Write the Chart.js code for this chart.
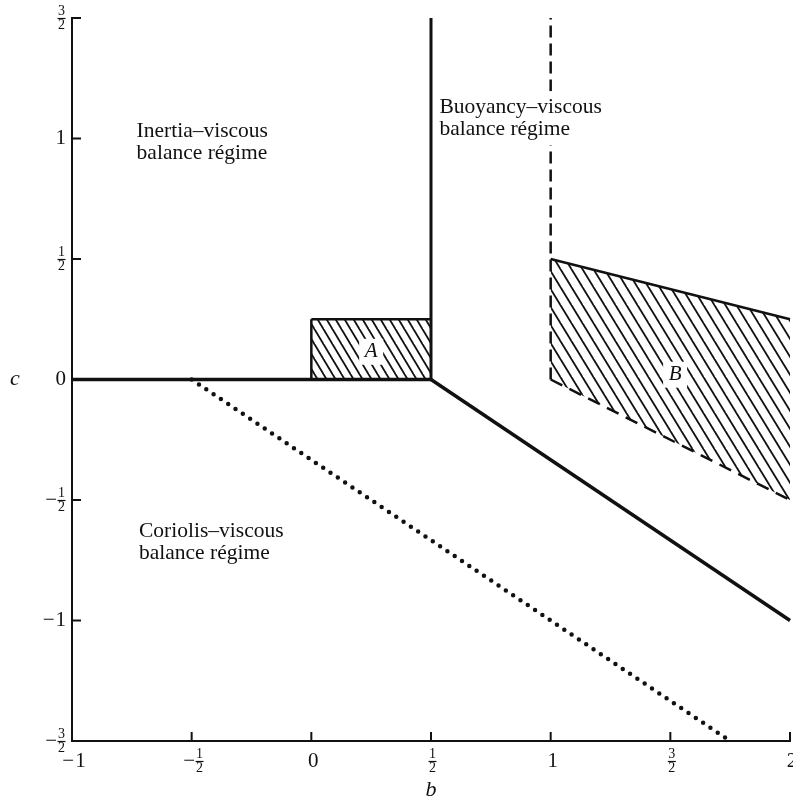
<!DOCTYPE html>
<html>
<head>
<meta charset="utf-8">
<script src="https://cdn.jsdelivr.net/npm/chart.js@4.4.0/dist/chart.umd.min.js"></script>
<style>
  html, body { margin: 0; padding: 0; background: #fff; }
</style>
</head>
<body>
<canvas id="chart" width="793" height="803"></canvas>
<script>
(function () {
  "use strict";

  /* ---------- data ---------- */
  var X_TICKS = [-1, -0.5, 0, 0.5, 1, 1.5, 2];
  var X_LABELS = ["−1", "−1/2", "0", "1/2", "1", "3/2", "2"];
  var Y_TICKS = [-1.5, -1, -0.5, 0, 0.5, 1, 1.5];
  var Y_LABELS = ["−3/2", "−1", "−1/2", "0", "1/2", "1", "3/2"];

  var ZERO_LINE = [{ x: -1, y: 0 }, { x: 0.5, y: 0 }];
  var BUOYANCY_EDGE = [{ x: 0.5, y: 0 }, { x: 0.5, y: 1.5 }];
  var CORIOLIS_EDGE = [{ x: 0.5, y: 0 }, { x: 2, y: -1 }];
  var DOTTED_LINE = [{ x: -0.5, y: 0 }, { x: 1.75, y: -1.5 }];
  var DASHED_LINE = [{ x: 1, y: 0 }, { x: 1, y: 1.5 }];

  var A_TOP = [{ x: 0, y: 0.25 }, { x: 0.5, y: 0.25 }];
  var A_BOTTOM = [{ x: 0, y: 0 }, { x: 0.5, y: 0 }];
  var A_LEFT = [{ x: 0, y: 0 }, { x: 0, y: 0.25 }];
  var B_TOP = [{ x: 1, y: 0.5 }, { x: 2, y: 0.25 }];
  var B_BOTTOM = [{ x: 1, y: 0 }, { x: 2, y: -0.5 }];

  var REGIME_TEXT = [
    { x: -0.73, y: 1.03, lines: ["Inertia–viscous", "balance régime"] },
    { x: 0.535, y: 1.13, lines: ["Buoyancy–viscous", "balance régime"] },
    { x: -0.72, y: -0.63, lines: ["Coriolis–viscous", "balance régime"] }
  ];
  var REGION_NAMES = [
    { x: 0.25, y: 0.115, text: "A" },
    { x: 1.52, y: 0.02, text: "B" }
  ];

  var SERIF = '"Liberation Serif", "DejaVu Serif", serif';

  /* ---------- hatch pattern ---------- */
  function hatch(w, h, lw) {
    var cv = document.createElement("canvas");
    cv.width = w;
    cv.height = h;
    var g = cv.getContext("2d");
    g.strokeStyle = "#111";
    g.lineWidth = lw;
    for (var k = -1; k <= 1; k++) {
      g.beginPath();
      g.moveTo(-w, -h + k * h);
      g.lineTo(2 * w, 2 * h + k * h);
      g.stroke();
    }
    return g.createPattern(cv, "repeat");
  }

  /* ---------- tick label with stacked fractions ---------- */
  function labelWidth(ctx, text) {
    var neg = text.charAt(0) === "−";
    var body = neg ? text.slice(1) : text;
    var w = 0;
    ctx.font = "21px " + SERIF;
    if (neg) w += ctx.measureText("−").width + 1;
    if (body.indexOf("/") >= 0) {
      ctx.font = "14px " + SERIF;
      var p = body.split("/");
      w += Math.max(ctx.measureText(p[0]).width, ctx.measureText(p[1]).width) + 1;
    } else {
      ctx.font = "21px " + SERIF;
      w += ctx.measureText(body).width;
    }
    return w;
  }

  function drawLabel(ctx, text, left, midY) {
    var neg = text.charAt(0) === "−";
    var body = neg ? text.slice(1) : text;
    var x = left;
    ctx.fillStyle = "#111";
    ctx.strokeStyle = "#111";
    ctx.textBaseline = "middle";
    ctx.textAlign = "left";
    if (neg) {
      ctx.font = "21px " + SERIF;
      ctx.fillText("−", x, midY);
      x += ctx.measureText("−").width + 1;
    }
    if (body.indexOf("/") >= 0) {
      var p = body.split("/");
      ctx.font = "14px " + SERIF;
      var fw = Math.max(ctx.measureText(p[0]).width, ctx.measureText(p[1]).width);
      ctx.textAlign = "center";
      ctx.fillText(p[0], x + fw / 2, midY - 7);
      ctx.fillText(p[1], x + fw / 2, midY + 7);
      ctx.lineWidth = 1.2;
      ctx.beginPath();
      ctx.moveTo(x - 0.5, midY + 0.5);
      ctx.lineTo(x + fw + 0.5, midY + 0.5);
      ctx.stroke();
    } else {
      ctx.font = "21px " + SERIF;
      ctx.fillText(body, x, midY);
    }
  }

  /* ---------- plugin: ticks, labels, text ---------- */
  var decorations = {
    id: "decorations",
    afterDatasetsDraw: function (chart) {
      var ctx = chart.ctx;
      var xs = chart.scales.x;
      var ys = chart.scales.y;
      var area = chart.chartArea;
      ctx.save();

      // inward tick marks
      ctx.strokeStyle = "#111";
      ctx.lineWidth = 2;
      X_TICKS.forEach(function (v) {
        var px = xs.getPixelForValue(v);
        ctx.beginPath();
        ctx.moveTo(px, area.bottom);
        ctx.lineTo(px, area.bottom - 9);
        ctx.stroke();
      });
      Y_TICKS.forEach(function (v) {
        var py = ys.getPixelForValue(v);
        ctx.beginPath();
        ctx.moveTo(area.left, py);
        ctx.lineTo(area.left + 9, py);
        ctx.stroke();
      });

      // tick labels
      X_TICKS.forEach(function (v, i) {
        var w = labelWidth(ctx, X_LABELS[i]);
        drawLabel(ctx, X_LABELS[i], xs.getPixelForValue(v) - w / 2 + 2, area.bottom + 20);
      });
      Y_TICKS.forEach(function (v, i) {
        var w = labelWidth(ctx, Y_LABELS[i]);
        drawLabel(ctx, Y_LABELS[i], area.left - 6 - w, ys.getPixelForValue(v));
      });

      // axis titles
      ctx.font = "italic 22px " + SERIF;
      ctx.textAlign = "center";
      ctx.textBaseline = "middle";
      ctx.fillText("c", 15, ys.getPixelForValue(0));
      ctx.fillText("b", xs.getPixelForValue(0.5), area.bottom + 49);

      // regime descriptions (knock out lines behind them)
      ctx.font = "21.5px " + SERIF;
      ctx.textAlign = "left";
      REGIME_TEXT.forEach(function (t) {
        var px = xs.getPixelForValue(t.x);
        var py = ys.getPixelForValue(t.y);
        var wmax = 0;
        t.lines.forEach(function (line) {
          wmax = Math.max(wmax, ctx.measureText(line).width);
        });
        ctx.fillStyle = "#fff";
        ctx.fillRect(px - 3, py - 16, wmax + 6, (t.lines.length - 1) * 22 + 32);
        ctx.fillStyle = "#111";
        t.lines.forEach(function (line, j) {
          ctx.fillText(line, px, py + j * 22);
        });
      });

      // region letters on white boxes
      ctx.font = "italic 21px " + SERIF;
      ctx.textAlign = "center";
      REGION_NAMES.forEach(function (r) {
        var px = xs.getPixelForValue(r.x);
        var py = ys.getPixelForValue(r.y);
        ctx.fillStyle = "#fff";
        ctx.fillRect(px - 12, py - 13, 24, 26);
        ctx.fillStyle = "#111";
        ctx.fillText(r.text, px, py);
      });

      ctx.restore();
    }
  };

  function line(data, width, extra) {
    var ds = {
      data: data,
      showLine: true,
      borderColor: "#111",
      borderWidth: width,
      pointRadius: 0,
      fill: false,
      tension: 0,
      clip: false
    };
    for (var k in extra) ds[k] = extra[k];
    return ds;
  }

  new Chart(document.getElementById("chart"), {
    type: "scatter",
    data: {
      datasets: [
        line(A_TOP, 2.5, { fill: "+1", backgroundColor: hatch(9, 15, 1.8) }),
        line(A_BOTTOM, 0, { borderColor: "rgba(0,0,0,0)" }),
        line(B_TOP, 2.5, { fill: "+1", backgroundColor: hatch(11, 18, 1.8) }),
        line(B_BOTTOM, 2.5, { borderDash: [13, 8] }),
        line(A_LEFT, 2.5),
        line(ZERO_LINE, 3.5),
        line(BUOYANCY_EDGE, 3),
        line(CORIOLIS_EDGE, 3.5),
        line(DASHED_LINE, 2.5, { borderDash: [12, 6] }),
        line(DOTTED_LINE, 4.5, { borderDash: [0, 8.8], borderCapStyle: "round" })
      ]
    },
    options: {
      responsive: false,
      animation: false,
      devicePixelRatio: 1,
      layout: { padding: { left: 72, right: 3, top: 18, bottom: 62 } },
      plugins: { legend: { display: false }, tooltip: { enabled: false } },
      scales: {
        x: {
          type: "linear",
          min: -1,
          max: 2,
          ticks: { display: false, stepSize: 0.5 },
          grid: { drawOnChartArea: false, drawTicks: false },
          border: { display: true, color: "#111", width: 2 },
          afterFit: function (s) { s.height = 0; }
        },
        y: {
          type: "linear",
          min: -1.5,
          max: 1.5,
          ticks: { display: false, stepSize: 0.5 },
          grid: { drawOnChartArea: false, drawTicks: false },
          border: { display: true, color: "#111", width: 2 },
          afterFit: function (s) { s.width = 0; }
        }
      }
    },
    plugins: [decorations]
  });
})();
</script>
</body>
</html>
